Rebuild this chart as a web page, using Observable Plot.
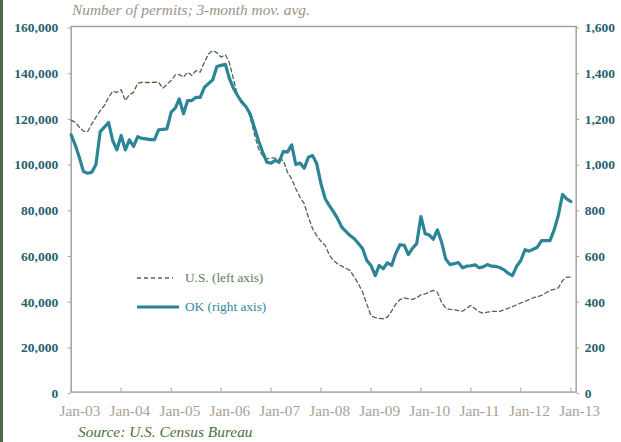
<!DOCTYPE html>
<html>
<head>
<meta charset="utf-8">
<script src="https://cdn.jsdelivr.net/npm/d3@7"></script>
<script src="https://cdn.jsdelivr.net/npm/@observablehq/plot@0.6"></script>
<style>
  body { margin: 0; background: #fff; }
  #wrap { position: relative; width: 621px; height: 442px; overflow: hidden; font-family: 'Liberation Serif', 'Times New Roman', Times, 'DejaVu Serif', serif; }
  #bar { position: absolute; left: 0; top: 0; width: 2.5px; height: 442px; background: #4b6a45; }
  #sub { position: absolute; left: 72px; top: 2px; font-size: 15.4px; line-height: 1; font-style: italic; color: #9d928b; white-space: nowrap; }
  #chart { position: absolute; left: 0; top: 0; }
  #chart svg text { font-family: 'Liberation Serif', 'Times New Roman', Times, 'DejaVu Serif', serif; }
  .leg { position: absolute; left: 185px; font-size: 13.3px; line-height: 1; white-space: nowrap; }
  .sw { position: absolute; left: 137px; }
  #src { position: absolute; left: 78px; top: 424px; font-size: 15.4px; line-height: 1; font-style: italic; color: #4e6e3f; white-space: nowrap; }
</style>
</head>
<body>
<div id="wrap">
  <div id="bar"></div>
  <div id="chart"></div>
  <div id="sub">Number of permits; 3-month mov. avg.</div>
  <div id="legend"></div>
  <div id="src">Source: U.S. Census Bureau</div>
</div>
<script>
// ---- data (monthly, Jan-2003 .. Jan-2013) ----
const startYear = 2003;

// U.S. building permits, 3-month moving average (left axis)
const usPermits = [
  119000,118000,116000,114200,114000,117400,120300,123200,125500,129000,
  131700,131200,132300,127600,130200,131200,135200,135600,135500,135500,
  135600,135600,133000,134700,136400,138900,139000,137800,140000,138600,
  140700,140000,144400,148000,149500,148500,146600,147600,144400,137100,
  129800,127500,125400,120300,113000,106500,103500,102100,102500,102400,
  101800,101400,96200,93300,89000,85300,82400,76500,71500,68500,
  66000,64200,60200,57600,56100,55100,54200,53200,50300,47400,
  43700,38500,33500,32600,32300,32100,32800,35500,38500,40500,
  41300,40800,40600,41200,42600,43000,43700,44500,43700,39300,
  36700,36200,36000,35700,35400,36700,37900,36500,35200,34500,
  35000,35300,35300,35300,36000,36700,37400,38200,39000,39700,
  40500,41300,41800,42300,43400,44500,45000,45600,48800,50300,
  50300
];

// Oklahoma building permits, 3-month moving average (right axis)
const okPermits = [
  1126,1079,1028,965,958,962,996,1140,1160,1180,
  1100,1060,1123,1060,1104,1075,1118,1110,1108,1105,
  1105,1148,1150,1152,1225,1244,1283,1218,1276,1276,
  1290,1290,1334,1350,1367,1425,1430,1434,1375,1330,
  1298,1269,1250,1218,1159,1101,1050,1006,1002,1014,
  1006,1054,1050,1082,996,1002,980,1028,1035,999,
  912,846,817,790,760,722,703,685,671,650,
  627,576,554,510,554,540,566,554,608,645,
  642,602,630,650,768,693,688,669,710,656,
  583,558,562,567,544,551,553,557,544,548,
  558,551,550,545,535,520,510,550,576,623,
  617,625,634,663,663,663,710,773,865,846,
  834
];

const leftTicks = [0, 20000, 40000, 60000, 80000, 100000, 120000, 140000, 160000];
const rightTicks = [0, 200, 400, 600, 800, 1000, 1200, 1400, 1600];
const xTickLabels = ["Jan-03","Jan-04","Jan-05","Jan-06","Jan-07","Jan-08","Jan-09","Jan-10","Jan-11","Jan-12","Jan-13"];
const seriesNames = ["U.S. (left axis)", "OK (right axis)"];
const seriesColors = ["#4a6a42", "#2b8597"];
const legendTextColors = ["#5d7a58", "#2f8a9c"];

// ---- build ----
const okToLeft = 100; // right axis 1,600 <-> left axis 160,000
const table = usPermits.map((us, i) => ({
  date: new Date(Date.UTC(startYear, i, 1)),
  us,
  ok: okPermits[i]
}));
const xTicks = xTickLabels.map((_, i) => new Date(Date.UTC(startYear + i, 0, 1)));
const axisGray = "#a3a3a3";
const labelTeal = "#28616f";
const serif = "'Liberation Serif', 'Times New Roman', Times, 'DejaVu Serif', serif";

const chart = Plot.plot({
  width: 621,
  height: 442,
  marginLeft: 70.7,
  marginRight: 45.3,
  marginTop: 26,
  marginBottom: 50.4,
  style: { fontFamily: serif, background: "transparent", overflow: "visible" },
  x: { type: "utc", domain: [new Date(Date.UTC(startYear, 0, 1)), new Date(Date.UTC(2013, 1, 9))] },
  y: { domain: [0, 160000] },
  marks: [
    Plot.frame({ stroke: axisGray, strokeWidth: 1.5 }),
    Plot.axisY({ anchor: "left", ticks: leftTicks, tickSize: 3, tickPadding: 10,
      tickFormat: d3.format(","), stroke: axisGray, fill: labelTeal,
      fontSize: 13.5, fontWeight: 600, dy: 1.5, label: null }),
    Plot.axisY({ anchor: "right", ticks: rightTicks.map(v => v * okToLeft), tickSize: 2.5, tickPadding: 6,
      tickFormat: d => d3.format(",")(d / okToLeft), stroke: axisGray, fill: labelTeal,
      fontSize: 13.5, fontWeight: 600, dy: 1.5, label: null }),
    Plot.axisX({ ticks: xTicks, tickSize: -4, tickPadding: 0, tickFormat: () => "", stroke: axisGray, label: null }),
    Plot.axisX({ ticks: xTicks, tickSize: 0, tickPadding: 13,
      tickFormat: d => xTickLabels[d.getUTCFullYear() - startYear],
      fill: "#aa9f98", fontSize: 15.3, dx: 8.7, label: null }),
    Plot.line(table, { x: "date", y: "us", stroke: seriesColors[0], strokeWidth: 1.3, strokeDasharray: "4,3" }),
    Plot.line(table, { x: "date", y: d => d.ok * okToLeft, stroke: seriesColors[1], strokeWidth: 3.2 })
  ]
});
document.getElementById("chart").appendChild(chart);

// ---- legend ----
const legend = document.getElementById("legend");
const legendRows = [
  { top: 271, lineY: 277.5, len: 36, width: 1.3, dash: "4,3" },
  { top: 300, lineY: 306.5, len: 42, width: 3.2, dash: null }
];
seriesNames.forEach((name, i) => {
  const r = legendRows[i];
  const t = document.createElement("div");
  t.className = "leg";
  t.style.top = r.top + "px";
  t.style.color = legendTextColors[i];
  t.textContent = name;
  legend.appendChild(t);
  const svg = d3.create("svg").attr("class", "sw").attr("width", r.len).attr("height", 6)
    .style("top", (r.lineY - 3) + "px");
  svg.append("line").attr("x1", 0).attr("x2", r.len).attr("y1", 3).attr("y2", 3)
    .attr("stroke", seriesColors[i]).attr("stroke-width", r.width)
    .attr("stroke-dasharray", r.dash);
  legend.appendChild(svg.node());
});
</script>
</body>
</html>
